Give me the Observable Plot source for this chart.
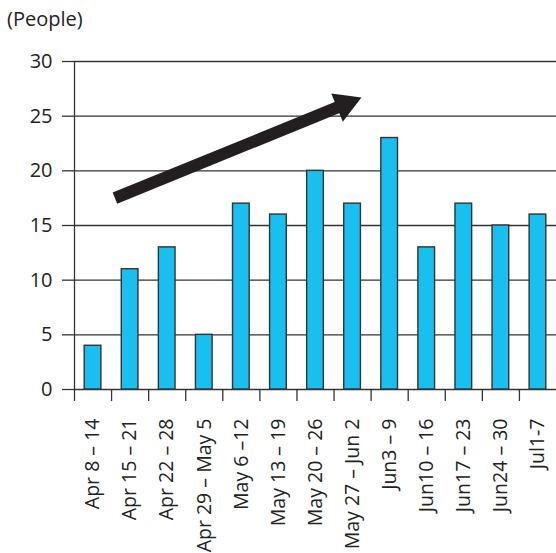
<!DOCTYPE html>
<html>
<head>
<meta charset="utf-8">
<script src="https://cdn.jsdelivr.net/npm/d3@7"></script>
<script src="https://cdn.jsdelivr.net/npm/@observablehq/plot@0.6"></script>
<style>
  body { margin: 0; background: #fff; font-family: "Open Sans", sans-serif; }
  #unit { height: 40px; box-sizing: border-box; padding: 6px 0 0 7px; font-size: 20px; line-height: 26px; color: #222; }
  svg { display: block; }
</style>
</head>
<body>
<div id="unit">(People)</div>
<div id="chart"></div>
<script>
const categories = ["Apr 8 – 14", "Apr 15 – 21", "Apr 22 – 28", "Apr 29 – May 5", "May 6 –12", "May 13 – 19", "May 20 – 26", "May 27 – Jun 2", "Jun3 – 9", "Jun10 – 16", "Jun17 – 23", "Jun24 – 30", "Jul1-7"];
const people = [4, 11, 13, 5, 17, 16, 20, 17, 23, 13, 17, 15, 16];
const yTicks = [0, 5, 10, 15, 20, 25, 30];
// trend arrow, in data units (category index, people)
const arrowFrom = {x: 0.59, y: 17.5};
const arrowTo = {x: 7.24, y: 26.7};

const data = categories.map((c, i) => ({i, c, v: people[i]}));
const boundaries = d3.range(categories.length).map(i => i - 0.5);
const barHalf = 0.225;

const chart = Plot.plot({
  width: 556,
  height: 513,
  marginLeft: 74,
  marginRight: 0,
  marginTop: 21,
  marginBottom: 164,
  style: {fontFamily: "'Open Sans', sans-serif", fontSize: "20px", color: "#222"},
  x: {domain: [-0.5, categories.length - 0.5], axis: null},
  y: {domain: [0, 30], axis: null},
  marks: [
    Plot.ruleY(yTicks, {stroke: "#333", strokeWidth: 1.3}),
    Plot.ruleX([-0.5], {y1: 0, y2: 30, stroke: "#333", strokeWidth: 1.3}),
    Plot.axisY({ticks: yTicks, tickSize: 12, tickPadding: 10, stroke: "#333", strokeWidth: 1.3, strokeOpacity: 1, label: null, fontSize: 20}),
    Plot.axisX({ticks: boundaries, tickSize: 12, tickFormat: () => "", stroke: "#333", strokeWidth: 1.3, strokeOpacity: 1, label: null}),
    Plot.axisX({ticks: d3.range(categories.length), tickSize: 0, tickPadding: 29, tickRotate: -90, tickFormat: i => categories[i], label: null, fontSize: 19.5}),
    Plot.rectY(data, {x1: d => d.i - barHalf, x2: d => d.i + barHalf, y: "v", fill: "#19BFEE", stroke: "#333", strokeWidth: 1.4}),
    Plot.arrow([{a: arrowFrom, b: arrowTo}], {
      x1: d => d.a.x, y1: d => d.a.y, x2: d => d.b.x, y2: d => d.b.y,
      stroke: "#231f20", strokeWidth: 12, headLength: 0, insetEnd: 16, strokeLinecap: "butt"
    }),
    Plot.dot([arrowTo], {x: "x", y: "y", symbol: "triangle", r: 11.3, fill: "#231f20", stroke: "none", rotate: 67.7, dx: -16.3, dy: 6.7})
  ]
});
document.getElementById("chart").appendChild(chart);
</script>
</body>
</html>
